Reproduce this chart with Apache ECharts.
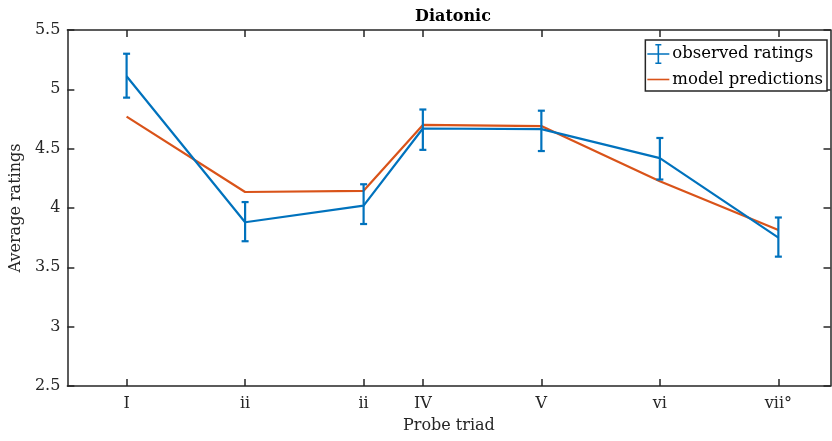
<!DOCTYPE html>
<html lang="en">
<head>
    <meta charset="UTF-8">
    <title>Diatonic</title>
    <script src="https://cdn.jsdelivr.net/npm/echarts@6/dist/echarts.min.js"></script>
    <style>
        html, body { margin: 0; padding: 0; background: #fff; }
        #main { width: 832px; height: 441px; }
    </style>
</head>
<body>
<div id="main"></div>
<script>
    // probe triads placed by semitone position
    var triadNames = ['I', 'ii', 'ii', 'IV', 'V', 'vi', 'vii°'];
    var triadPos = [0, 2, 4, 5, 7, 9, 11];
    var observed = [5.11, 3.88, 4.02, 4.67, 4.665, 4.42, 3.75];
    var errLow = [4.93, 3.72, 3.865, 4.49, 4.48, 4.24, 3.59];
    var errHigh = [5.30, 4.05, 4.20, 4.83, 4.82, 4.59, 3.92];
    var model = [4.77, 4.135, 4.145, 4.70, 4.69, 4.225, 3.815];
    var yTicks = [2.5, 3, 3.5, 4, 4.5, 5, 5.5];

    var blue = '#0072BD';
    var orange = '#D95319';
    var axisColor = '#262626';
    var font = 'DejaVu Serif';

    var obsData = [], modelData = [], errData = [];
    for (var i = 0; i < triadPos.length; i++) {
        obsData.push([triadPos[i], observed[i]]);
        modelData.push([triadPos[i], model[i]]);
        errData.push([triadPos[i], errLow[i], errHigh[i]]);
    }

    var labelOf = function (v) {
        var k = triadPos.indexOf(v);
        return k >= 0 ? triadNames[k] : '';
    };

    var myChart = echarts.init(document.getElementById('main'));
    var option = {
        animation: false,
        backgroundColor: '#fff',
        title: {
            text: 'Diatonic',
            left: 448,
            textAlign: 'center',
            top: 4,
            textStyle: { fontFamily: font, fontSize: 16, fontWeight: 'bold', color: '#000' }
        },
        grid: { left: 64, top: 30, right: 1.5, bottom: 55 },
        legend: {
            right: 5,
            top: 40,
            orient: 'vertical',
            backgroundColor: '#fff',
            borderColor: axisColor,
            borderWidth: 1.5,
            borderRadius: 0,
            padding: [4, 4, 3, 2],
            itemGap: 7,
            itemWidth: 22,
            itemHeight: 20,
            textStyle: { fontFamily: font, fontSize: 16.5, color: '#000', padding: [0, 0, 0, -2] },
            data: [
                { name: 'observed ratings', icon: 'path://M0,9.2h22v1.6h-22z M10.2,0h1.6v20h-1.6z M8,0h6v1.6h-6z M8,18.4h6v1.6h-6z' },
                { name: 'model predictions', icon: 'path://M0,9.2h22v1.6h-22z' }
            ]
        },
        xAxis: [{
            type: 'value',
            min: -1,
            max: 11.88,
            name: 'Probe triad',
            nameLocation: 'middle',
            nameGap: 32,
            nameTextStyle: { fontFamily: font, fontSize: 16, color: axisColor },
            splitLine: { show: false },
            axisLine: { onZero: false, lineStyle: { color: axisColor, width: 1.5 } },
            axisTick: { inside: true, length: 7, customValues: triadPos, lineStyle: { color: axisColor, width: 1.5 } },
            axisLabel: {
                customValues: triadPos,
                formatter: labelOf,
                margin: 10,
                fontFamily: font, fontSize: 16, color: axisColor
            }
        }, {
            type: 'value',
            position: 'top',
            min: -1,
            max: 11.88,
            splitLine: { show: false },
            axisLine: { onZero: false, lineStyle: { color: axisColor, width: 1.5 } },
            axisTick: { inside: true, length: 7, customValues: triadPos, lineStyle: { color: axisColor, width: 1.5 } },
            axisLabel: { show: false }
        }],
        yAxis: [{
            type: 'value',
            min: 2.5,
            max: 5.5,
            interval: 0.5,
            name: 'Average ratings',
            nameLocation: 'middle',
            nameGap: 36,
            nameTextStyle: { fontFamily: font, fontSize: 16, color: axisColor },
            splitLine: { show: false },
            axisLine: { show: true, onZero: false, lineStyle: { color: axisColor, width: 1.5 } },
            axisTick: { inside: true, length: 7, customValues: yTicks, lineStyle: { color: axisColor, width: 1.5 } },
            axisLabel: { margin: 7, fontFamily: font, fontSize: 16, color: axisColor }
        }, {
            type: 'value',
            position: 'right',
            min: 2.5,
            max: 5.5,
            interval: 0.5,
            splitLine: { show: false },
            axisLine: { show: true, onZero: false, lineStyle: { color: axisColor, width: 1.5 } },
            axisTick: { inside: true, length: 7, lineStyle: { color: axisColor, width: 1.5 } },
            axisLabel: { show: false }
        }],
        series: [
            {
                name: 'observed ratings',
                type: 'line',
                data: obsData,
                symbol: 'none',
                lineStyle: { color: blue, width: 2.2 },
                itemStyle: { color: blue },
                z: 3
            },
            {
                name: 'observed ratings',
                type: 'custom',
                data: errData,
                itemStyle: { color: blue },
                renderItem: function (params, api) {
                    var lo = api.coord([api.value(0), api.value(1)]);
                    var hi = api.coord([api.value(0), api.value(2)]);
                    var cap = 3.5;
                    var st = { stroke: blue, lineWidth: 2.2, fill: null };
                    return {
                        type: 'group',
                        children: [
                            { type: 'line', shape: { x1: lo[0], y1: lo[1], x2: hi[0], y2: hi[1] }, style: st },
                            { type: 'line', shape: { x1: lo[0] - cap, y1: lo[1], x2: lo[0] + cap, y2: lo[1] }, style: st },
                            { type: 'line', shape: { x1: hi[0] - cap, y1: hi[1], x2: hi[0] + cap, y2: hi[1] }, style: st }
                        ]
                    };
                },
                z: 3
            },
            {
                name: 'model predictions',
                type: 'line',
                data: modelData,
                symbol: 'none',
                lineStyle: { color: orange, width: 2.2 },
                itemStyle: { color: orange },
                z: 2
            }
        ]
    };
    myChart.setOption(option);
</script>
</body>
</html>
